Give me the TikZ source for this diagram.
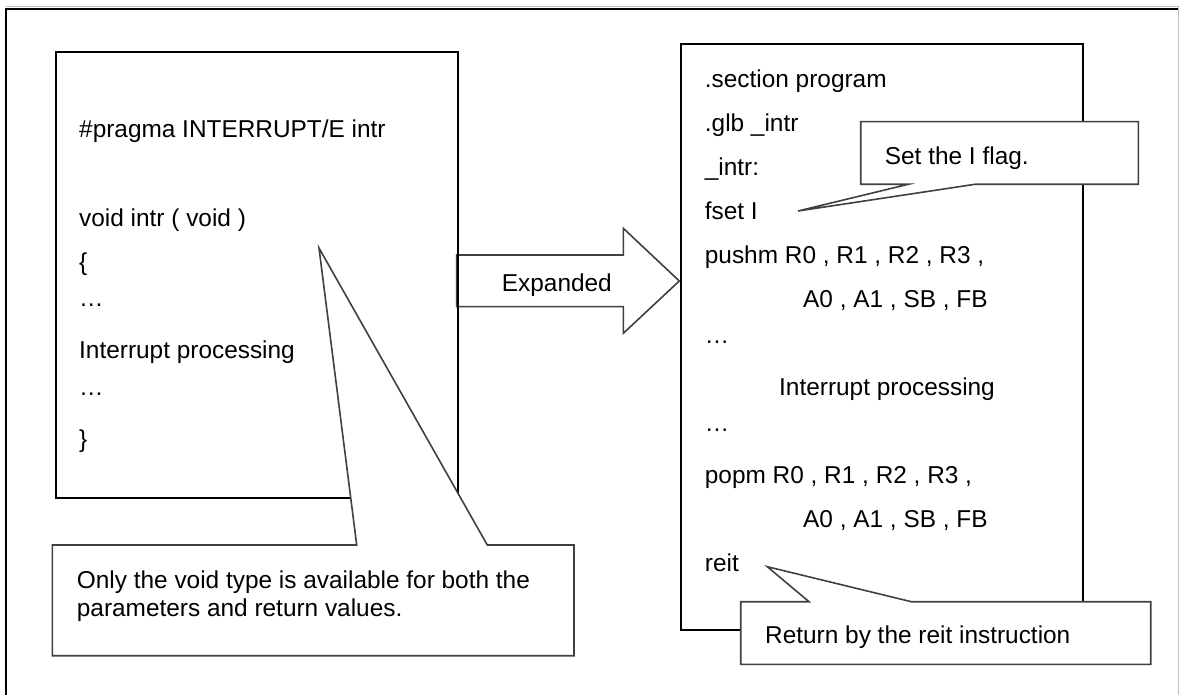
\documentclass[tikz,border=0pt]{standalone}
\usepackage{fontspec}
\setmainfont{Liberation Sans}
\tikzset{
  txt/.style={anchor=base west, inner sep=0pt, font=\fontsize{24.4}{29}\selectfont},
  codebox/.style={draw=black, line width=2pt},
  callout/.style={draw=black!75, line width=1.6pt, fill=white, line join=miter},
  bigarrow/.style={draw=black!75, line width=1.6pt, fill=white},
  frameline/.style={draw=black, line width=2pt},
  edgeline/.style={draw=black!25, line width=1pt},
}
\newcommand{\elli}{\raisebox{8pt}{…}}
\begin{document}
\begin{tikzpicture}[x=1pt, y=-1pt]
\useasboundingbox (0,0) rectangle (1179,695);
% outer frame (clipped by the page)
\draw[edgeline] (6,7) -- (1179,7);
\draw[edgeline] (1178.3,7) -- (1178.3,695);
\draw[frameline] (6,700) -- (6,9) -- (1178,9);

% expansion arrow
\draw[bigarrow] (456.7,255) -- (623.3,255) -- (623.3,228.3) -- (679.3,281)
  -- (623.3,333.3) -- (623.3,306.7) -- (456.7,306.7) -- cycle;

% code boxes
\draw[codebox] (55.7,51.7) rectangle (457.7,498.3);
\draw[codebox] (680.7,44.3) rectangle (1083,630);

% callout tips
\coordinate (tip1) at (319,248);
\coordinate (tip2) at (798,211);
\coordinate (tip3) at (767.3,566.7);

% callouts
\draw[callout] (52.3,545) -- (356.7,545) -- (tip1) -- (487.3,545) -- (574,545)
  -- (574,655.7) -- (52.3,655.7) -- cycle;
\draw[callout] (860.7,121.7) -- (1138.3,121.7) -- (1138.3,184.3) -- (975,184.3)
  -- (tip2) -- (908.3,184.3) -- (860.7,184.3) -- cycle;
\draw[callout] (740.7,601.7) -- (809,601.7) -- (tip3) -- (911.3,601.7)
  -- (1150.7,601.7) -- (1150.7,664.3) -- (740.7,664.3) -- cycle;

% left box text
\node[txt] (l1) at (79,138) {\#pragma INTERRUPT/E intr};
\node[txt] (l2) at (79,227) {void intr ( void )};
\node[txt] (l3) at (79,271) {\{};
\node[txt] (l4) at (79,315) {\elli};
\node[txt] (l5) at (79,359) {Interrupt processing};
\node[txt] (l6) at (79,403) {\elli};
\node[txt] (l7) at (79,447) {\}};

% right box text
\node[txt] (r1) at (704.7,87.3) {.section program};
\node[txt] (r2) at (704.7,131.4) {.glb \_intr};
\node[txt] (r3) at (704.7,175.4) {\_intr:};
\node[txt] (r4) at (704.7,219.5) {fset I};
\node[txt] (r5) at (704.7,263.5) {pushm R0 , R1 , R2 , R3 ,};
\node[txt] (r6) at (803,307.6) {A0 , A1 , SB , FB};
\node[txt] (r7) at (704.7,351.7) {\elli};
\node[txt] (r8) at (779,395.7) {Interrupt processing};
\node[txt] (r9) at (704.7,439.8) {\elli};
\node[txt] (r10) at (704.7,483.8) {popm R0 , R1 , R2 , R3 ,};
\node[txt] (r11) at (803,527.9) {A0 , A1 , SB , FB};
\node[txt] (r12) at (704.7,571.9) {reit};

% arrow label
\node[txt] (exp) at (501.7,291.7) {Expanded};

% callout texts
\node[txt] (c1a) at (76.7,588.3) {Only the void type is available for both the};
\node[txt] (c1b) at (76.7,616.7) {parameters and return values.};
\node[txt] (c2) at (884.7,165) {Set the I flag.};
\node[txt] (c3) at (765,643.3) {Return by the reit instruction};
\end{tikzpicture}
\end{document}
